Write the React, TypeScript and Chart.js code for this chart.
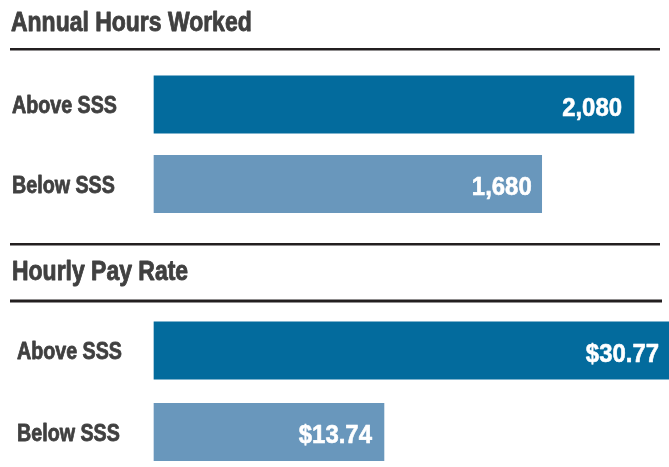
import React, { useEffect, useRef } from 'react';
import { Chart, registerables } from 'chart.js';

Chart.register(...registerables);

// ---- data ----
const categories = ['Above SSS', 'Below SSS'];
const hoursValues = [2080, 1680];
const payValues = [30.77, 13.74];
const panelTitles = ['Annual Hours Worked', 'Hourly Pay Rate'];
const barColors = ['#036b9d', '#6997bc'];

const FONT = "'Liberation Sans', Arial, sans-serif";
const TEXT = '#404040';
const RULE = '#231f20';
const NARROW = 0.82; // condensed look (Arial Narrow = Arial scaled)
const NUM_NARROW = 0.92;

const fmtHours = (v: number) => v.toLocaleString('en-US');
const fmtPay = (v: number) => '$' + v.toFixed(2);

type Rule = { y: number; x1: number; x2: number; h: number };

function drawText(
  ctx: CanvasRenderingContext2D,
  text: string,
  x: number,
  y: number,
  align: CanvasTextAlign,
  sx: number,
  weightStroke: number
) {
  ctx.save();
  ctx.translate(x, y);
  ctx.scale(sx, 1);
  ctx.textAlign = align;
  ctx.textBaseline = 'alphabetic';
  ctx.fillText(text, 0, 0);
  if (weightStroke > 0) {
    ctx.strokeStyle = ctx.fillStyle as string;
    ctx.lineWidth = weightStroke;
    ctx.lineJoin = 'round';
    ctx.strokeText(text, 0, 0);
  }
  ctx.restore();
}

function makeDecor(cfg: {
  title: string;
  titleX: number;
  titleY: number;
  labelX: number;
  rules: Rule[];
  format: (v: number) => string;
  pads: number[];
  baseOffset: number;
}) {
  return {
    id: 'decor',
    afterDraw(chart: any) {
      const ctx = chart.ctx as CanvasRenderingContext2D;
      ctx.save();
      ctx.fillStyle = RULE;
      cfg.rules.forEach((r) => ctx.fillRect(r.x1, r.y, r.x2 - r.x1, r.h));

      ctx.fillStyle = TEXT;
      ctx.font = `bold 28px ${FONT}`;
      drawText(ctx, cfg.title, cfg.titleX, cfg.titleY, 'left', NARROW, 0.9);

      // category labels from the y scale
      const yScale = chart.scales.y;
      ctx.font = `bold 24px ${FONT}`;
      (chart.data.labels as string[]).forEach((lab, i) => {
        drawText(ctx, lab, cfg.labelX, yScale.getPixelForValue(i) + 8.6, 'left', NARROW, 0.8);
      });

      // value labels inside bars
      const meta = chart.getDatasetMeta(0);
      const data = chart.data.datasets[0].data as number[];
      ctx.fillStyle = '#ffffff';
      ctx.font = `bold 26px ${FONT}`;
      meta.data.forEach((bar: any, i: number) => {
        drawText(ctx, cfg.format(data[i]), bar.x - cfg.pads[i], bar.y + cfg.baseOffset, 'right', NUM_NARROW, 0.6);
      });
      ctx.restore();
    },
  };
}

function buildChart(
  canvas: HTMLCanvasElement,
  values: number[],
  max: number,
  padding: { top: number; bottom: number; left: number; right: number },
  thickness: number,
  decor: any
) {
  return new Chart(canvas, {
    type: 'bar',
    data: {
      labels: categories,
      datasets: [
        {
          data: values,
          backgroundColor: barColors,
          borderWidth: 0,
          barThickness: thickness,
          clip: false,
        },
      ],
    },
    options: {
      indexAxis: 'y',
      responsive: false,
      animation: false,
      layout: { padding },
      plugins: { legend: { display: false }, tooltip: { enabled: false }, title: { display: false } },
      scales: {
        x: { display: false, min: 0, max },
        y: { display: false, offset: false },
      },
    },
    plugins: [decor],
  } as any);
}

export default function App() {
  const ref1 = useRef<HTMLCanvasElement>(null);
  const ref2 = useRef<HTMLCanvasElement>(null);

  useEffect(() => {
    const c1 = buildChart(
      ref1.current!,
      hoursValues,
      hoursValues[0],
      { top: 104.5, bottom: 54, left: 154, right: 35 },
      57.5,
      makeDecor({
        title: panelTitles[0],
        titleX: 11,
        titleY: 31,
        labelX: 12,
        rules: [{ y: 48, x1: 10, x2: 660, h: 2.5 }],
        format: fmtHours,
        pads: [12, 10],
        baseOffset: 11.3,
      })
    );
    const c2 = buildChart(
      ref2.current!,
      payValues,
      payValues[0],
      { top: 112.5, bottom: 35, left: 154, right: 0 },
      57.5,
      makeDecor({
        title: panelTitles[1],
        titleX: 12,
        titleY: 42,
        labelX: 17,
        rules: [
          { y: 5, x1: 10, x2: 660, h: 2.5 },
          { y: 61.5, x1: 10, x2: 662, h: 3 },
        ],
        format: fmtPay,
        pads: [10, 12],
        baseOffset: 11.3,
      })
    );
    return () => {
      c1.destroy();
      c2.destroy();
    };
  }, []);

  return (
    <div
      style={{
        position: 'fixed',
        top: 0,
        left: 0,
        width: 669,
        height: 467,
        overflow: 'hidden',
        background: '#ffffff',
      }}
    >
      <canvas ref={ref1} width={669} height={238} style={{ position: 'absolute', top: 0, left: 0 }} />
      <canvas ref={ref2} width={669} height={229} style={{ position: 'absolute', top: 238, left: 0 }} />
    </div>
  );
}
